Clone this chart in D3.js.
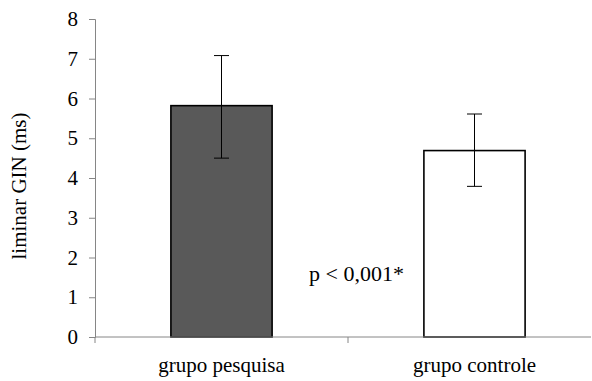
<!DOCTYPE html>
<html>
<head>
<meta charset="utf-8">
<script src="https://cdn.jsdelivr.net/npm/d3@7"></script>
<style>
  body { margin: 0; background: #fff; }
  text { font-family: "Liberation Serif", "DejaVu Serif", serif; fill: #000; }
</style>
</head>
<body>
<svg id="chart" width="592" height="381"></svg>
<script>
// dados do gráfico
const categories = ['grupo pesquisa', 'grupo controle'];
const means = [5.82, 4.69];
const errLow = [4.50, 3.79];
const errHigh = [7.08, 5.61];
const barColors = ['#595959', '#ffffff'];
const yTicks = [0, 1, 2, 3, 4, 5, 6, 7, 8];
const yLabel = 'liminar GIN (ms)';
const note = 'p < 0,001*';

const svg = d3.select('#chart');
const margin = { top: 19, left: 95, bottom: 44 };
const innerHeight = 381 - margin.top - margin.bottom;
const innerWidth = 506; // duas categorias de 253px
const axisEnd = 496;    // o eixo x termina na borda da imagem

const g = svg.append('g')
    .attr('transform', `translate(${margin.left}, ${margin.top})`);

// escalas
const x = d3.scaleBand().domain(categories).range([0, innerWidth]).paddingInner(0.6).paddingOuter(0.3);
const xCat = d3.scaleBand().domain(categories).range([0, innerWidth]);
const y = d3.scaleLinear().domain([0, 8]).range([innerHeight, 0]);

// eixo y
const yAxis = d3.axisLeft(y).tickValues(yTicks).tickSize(6).tickPadding(11).tickFormat(d3.format('d'));
const yg = g.append('g').call(yAxis);
yg.select('.domain').attr('stroke', '#868686');
yg.selectAll('.tick line').attr('stroke', '#868686');
yg.selectAll('.tick text').attr('font-size', 21).attr('font-family', '"Liberation Serif", serif').attr('fill', '#000');

// barras
g.selectAll('rect.bar')
    .data(categories)
    .enter()
    .append('rect')
    .attr('class', 'bar')
    .attr('x', d => x(d))
    .attr('width', x.bandwidth())
    .attr('y', (d, i) => y(means[i]))
    .attr('height', (d, i) => y(0) - y(means[i]))
    .attr('fill', (d, i) => barColors[i])
    .attr('stroke', '#000')
    .attr('stroke-width', 1.6);

// barras de erro
const cx = d => x(d) + x.bandwidth() / 2;
const cap = 7.5;
const eb = g.selectAll('g.err').data(categories).enter().append('g').attr('class', 'err');
eb.append('line')
    .attr('x1', cx).attr('x2', cx)
    .attr('y1', (d, i) => y(errLow[i])).attr('y2', (d, i) => y(errHigh[i]))
    .attr('stroke', '#000').attr('stroke-width', 1);
eb.append('line')
    .attr('x1', d => cx(d) - cap).attr('x2', d => cx(d) + cap)
    .attr('y1', (d, i) => y(errHigh[i])).attr('y2', (d, i) => y(errHigh[i]))
    .attr('stroke', '#000').attr('stroke-width', 1);
eb.append('line')
    .attr('x1', d => cx(d) - cap).attr('x2', d => cx(d) + cap)
    .attr('y1', (d, i) => y(errLow[i])).attr('y2', (d, i) => y(errLow[i]))
    .attr('stroke', '#000').attr('stroke-width', 1);

// eixo x
const xAxis = d3.axisBottom(xCat).tickSize(0).tickPadding(0);
const xg = g.append('g').attr('transform', `translate(0, ${innerHeight})`).call(xAxis);
xg.select('.domain').remove();
xg.selectAll('.tick text')
    .attr('font-size', 21)
    .attr('font-family', '"Liberation Serif", serif')
    .attr('fill', '#000')
    .attr('dy', null)
    .attr('y', 35);
g.append('line')
    .attr('x1', 0).attr('x2', axisEnd)
    .attr('y1', innerHeight).attr('y2', innerHeight)
    .attr('stroke', '#868686');
// marcas entre categorias
g.append('g').selectAll('line')
    .data([0, xCat.step()])
    .enter().append('line')
    .attr('x1', d => d).attr('x2', d => d)
    .attr('y1', innerHeight).attr('y2', innerHeight + 6)
    .attr('stroke', '#868686');

// título do eixo y
svg.append('text')
    .attr('transform', `translate(26, ${margin.top + innerHeight / 2 + 8}) rotate(-90)`)
    .attr('text-anchor', 'middle')
    .attr('font-size', 21)
    .text(yLabel);

// anotação
g.append('text')
    .attr('x', x('grupo controle') - 20)
    .attr('y', y(1.42))
    .attr('text-anchor', 'end')
    .attr('font-size', 22)
    .text(note);
</script>
</body>
</html>
